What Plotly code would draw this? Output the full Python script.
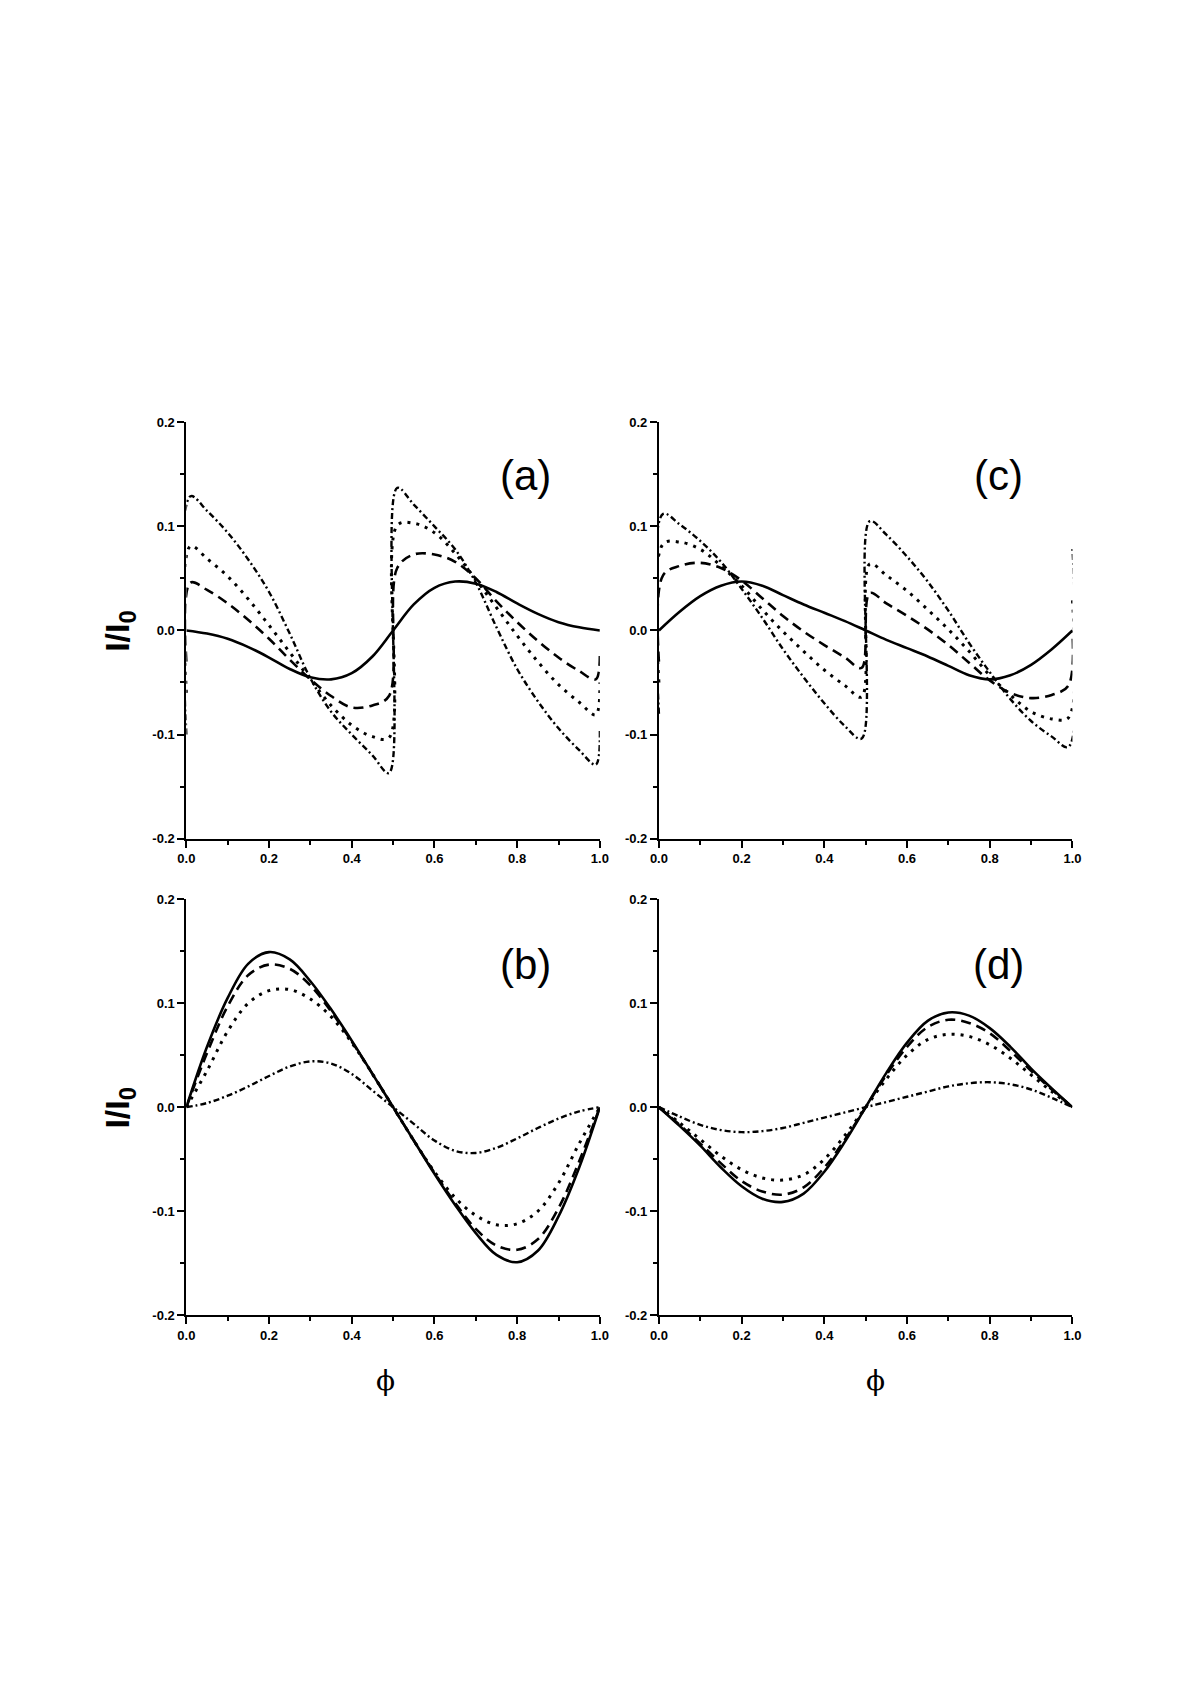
import plotly.graph_objects as go
from plotly.subplots import make_subplots

# phase grids
phi_smooth = [0.0, 0.05, 0.1, 0.15, 0.2, 0.25, 0.3, 0.35, 0.4, 0.45, 0.5,
              0.55, 0.6, 0.65, 0.7, 0.75, 0.8, 0.85, 0.9, 0.95, 1.0]
phi_saw = [0.0, 0.01, 0.05, 0.1, 0.15, 0.2, 0.25, 0.3, 0.35, 0.4, 0.45, 0.49,
           0.51, 0.55, 0.6, 0.65, 0.7, 0.75, 0.8, 0.85, 0.9, 0.95, 0.99, 1.0]

# panel (a)
a_solid = [0.0, -0.003, -0.008, -0.016, -0.026, -0.037, -0.045, -0.047, -0.041, -0.025, 0.0,
           0.025, 0.041, 0.047, 0.045, 0.037, 0.026, 0.016, 0.008, 0.003, 0.0]
a_dash = [-0.03, 0.046, 0.039, 0.026, 0.010, -0.008, -0.028, -0.047, -0.063, -0.074, -0.072, -0.063,
          0.060, 0.073, 0.073, 0.066, 0.050, 0.028, 0.008, -0.010, -0.026, -0.039, -0.047, -0.022]
a_dot = [-0.06, 0.081, 0.069, 0.052, 0.030, 0.005, -0.021, -0.047, -0.072, -0.091, -0.102, -0.103,
         0.101, 0.103, 0.094, 0.074, 0.049, 0.022, -0.005, -0.030, -0.052, -0.069, -0.081, -0.050]
a_dashdot = [-0.10, 0.129, 0.115, 0.094, 0.068, 0.037, -0.003, -0.046, -0.078, -0.100, -0.120, -0.137,
             0.137, 0.121, 0.100, 0.078, 0.046, 0.003, -0.037, -0.068, -0.094, -0.115, -0.129, -0.095]

# panel (b)
b_solid = [0.0, 0.058, 0.105, 0.138, 0.149, 0.142, 0.121, 0.094, 0.064, 0.032, 0.0,
           -0.032, -0.064, -0.094, -0.121, -0.142, -0.149, -0.138, -0.105, -0.058, 0.0]
b_dash = [0.0, 0.052, 0.097, 0.127, 0.137, 0.133, 0.117, 0.092, 0.063, 0.032, 0.0,
          -0.032, -0.063, -0.092, -0.117, -0.133, -0.137, -0.127, -0.097, -0.052, 0.0]
b_dot = [0.0, 0.035, 0.073, 0.100, 0.112, 0.113, 0.104, 0.087, 0.062, 0.032, 0.0,
         -0.032, -0.062, -0.087, -0.104, -0.113, -0.112, -0.100, -0.073, -0.035, 0.0]
b_dashdot = [0.0, 0.004, 0.011, 0.020, 0.030, 0.039, 0.044, 0.042, 0.032, 0.016, 0.0,
             -0.016, -0.032, -0.042, -0.044, -0.039, -0.030, -0.020, -0.011, -0.004, 0.0]

# panel (c)
c_solid = [0.0, 0.018, 0.033, 0.043, 0.047, 0.043, 0.034, 0.025, 0.017, 0.009, 0.0,
           -0.009, -0.017, -0.025, -0.034, -0.043, -0.047, -0.043, -0.033, -0.018, 0.0]
c_dash = [-0.03, 0.053, 0.062, 0.065, 0.060, 0.048, 0.031, 0.014, -0.001, -0.014, -0.026, -0.036,
          0.036, 0.026, 0.014, 0.001, -0.014, -0.031, -0.048, -0.060, -0.065, -0.062, -0.053, 0.0]
c_dot = [-0.05, 0.083, 0.085, 0.078, 0.062, 0.043, 0.020, -0.001, -0.020, -0.038, -0.053, -0.064,
         0.064, 0.053, 0.038, 0.020, 0.001, -0.020, -0.043, -0.062, -0.078, -0.085, -0.084, 0.03]
c_dashdot = [-0.08, 0.112, 0.102, 0.086, 0.066, 0.040, 0.012, -0.018, -0.045, -0.070, -0.092, -0.104,
             0.105, 0.092, 0.071, 0.047, 0.019, -0.012, -0.040, -0.066, -0.087, -0.102, -0.112, 0.08]

# panel (d)
d_solid = [0.0, -0.018, -0.037, -0.058, -0.076, -0.088, -0.091, -0.083, -0.062, -0.033, 0.0,
           0.033, 0.062, 0.083, 0.091, 0.088, 0.076, 0.058, 0.037, 0.018, 0.0]
d_dash = [0.0, -0.017, -0.035, -0.054, -0.071, -0.081, -0.084, -0.077, -0.058, -0.031, 0.0,
          0.031, 0.058, 0.077, 0.084, 0.081, 0.071, 0.054, 0.035, 0.017, 0.0]
d_dot = [0.0, -0.015, -0.031, -0.047, -0.060, -0.068, -0.070, -0.065, -0.050, -0.027, 0.0,
         0.027, 0.050, 0.065, 0.070, 0.068, 0.060, 0.047, 0.031, 0.015, 0.0]
d_dashdot = [0.0, -0.009, -0.017, -0.022, -0.024, -0.023, -0.020, -0.015, -0.010, -0.005, 0.0,
             0.005, 0.010, 0.015, 0.020, 0.023, 0.024, 0.022, 0.017, 0.009, 0.0]

x_ticks = [0.0, 0.2, 0.4, 0.6, 0.8, 1.0]
x_ticktext = ["0.0", "0.2", "0.4", "0.6", "0.8", "1.0"]
x_minor = [0.1, 0.3, 0.5, 0.7, 0.9]
y_ticks = [-0.2, -0.1, 0.0, 0.1, 0.2]
y_ticktext = ["-0.2", "-0.1", "0.0", "0.1", "0.2"]
y_minor = [-0.15, -0.05, 0.05, 0.15]

styles = {
    "solid": dict(dash="solid", width=2.6),
    "dash": dict(dash="10px,6px", width=2.6),
    "dot": dict(dash="3px,6px", width=3),
    "dashdot": dict(dash="6px,3px,2px,3px", width=2.4),
}

panels = [
    ("(a)", 1, 1, [(phi_smooth, a_solid, "solid"), (phi_saw, a_dash, "dash"),
                   (phi_saw, a_dot, "dot"), (phi_saw, a_dashdot, "dashdot")], 0.149),
    ("(c)", 1, 2, [(phi_smooth, c_solid, "solid"), (phi_saw, c_dash, "dash"),
                   (phi_saw, c_dot, "dot"), (phi_saw, c_dashdot, "dashdot")], 0.149),
    ("(b)", 2, 1, [(phi_smooth, b_solid, "solid"), (phi_smooth, b_dash, "dash"),
                   (phi_smooth, b_dot, "dot"), (phi_smooth, b_dashdot, "dashdot")], 0.137),
    ("(d)", 2, 2, [(phi_smooth, d_solid, "solid"), (phi_smooth, d_dash, "dash"),
                   (phi_smooth, d_dot, "dot"), (phi_smooth, d_dashdot, "dashdot")], 0.137),
]

# the page body keeps its default 8px margin, so the figure is shrunk to fit
PAGE_W, PAGE_H, BODY = 1181, 1700, 8
W, H = PAGE_W - 2 * BODY, PAGE_H - 2 * BODY


def px_x(x):
    return (x - BODY) / W


def px_y(y):
    return 1 - (y - BODY) / H


fig = make_subplots(rows=2, cols=2)

for label, row, col, series, label_y in panels:
    for xs, ys, style in series:
        fig.add_trace(
            go.Scatter(
                x=xs, y=ys, mode="lines", showlegend=False,
                line=dict(color="black", shape="spline", smoothing=1.0, **styles[style]),
            ),
            row=row, col=col,
        )
    fig.add_annotation(
        text=label, x=0.82, y=label_y, showarrow=False,
        xanchor="center", yanchor="middle",
        font=dict(family="Liberation Sans, Arial", size=42, color="black"),
        row=row, col=col,
    )

tick_font = dict(family="Liberation Sans, Arial", size=13, color="black", weight="bold")
common = dict(
    showline=True, linecolor="black", linewidth=2, mirror=False,
    ticks="outside", ticklen=7, tickwidth=2, tickcolor="black",
    showgrid=False, zeroline=False, tickfont=tick_font,
)

fig.update_xaxes(
    range=[0, 1], tickmode="array", tickvals=x_ticks, ticktext=x_ticktext,
    minor=dict(tickmode="array", tickvals=x_minor, ticks="outside", ticklen=4,
               tickwidth=2, tickcolor="black"),
    **common,
)
fig.update_yaxes(
    range=[-0.2, 0.2], tickmode="array", tickvals=y_ticks, ticktext=y_ticktext,
    minor=dict(tickmode="array", tickvals=y_minor, ticks="outside", ticklen=4,
               tickwidth=2, tickcolor="black"),
    **common,
)

# panel boxes, in page pixels
left_dom = [px_x(180), px_x(600)]
right_dom = [px_x(660), px_x(1080)]
top_dom = [px_y(839), px_y(419)]
bottom_dom = [px_y(1320), px_y(900)]

fig.update_layout(
    width=W, height=H,
    margin=dict(l=0, r=0, t=0, b=0),
    paper_bgcolor="white", plot_bgcolor="white",
    xaxis=dict(domain=left_dom), yaxis=dict(domain=top_dom),
    xaxis2=dict(domain=right_dom), yaxis2=dict(domain=top_dom),
    xaxis3=dict(domain=left_dom), yaxis3=dict(domain=bottom_dom),
    xaxis4=dict(domain=right_dom), yaxis4=dict(domain=bottom_dom),
)

# axis titles
for yc in [(419 + 839) / 2, (900 + 1320) / 2]:
    fig.add_annotation(
        text="<b>I/I<sub>0</sub></b>", xref="paper", yref="paper",
        x=px_x(112), y=px_y(yc), textangle=-90, showarrow=False,
        xanchor="center", yanchor="middle",
        font=dict(family="Liberation Sans, Arial", size=34, color="black"),
    )
for xc in [382, 880]:
    fig.add_annotation(
        text="ϕ", xref="paper", yref="paper", x=px_x(xc), y=px_y(1386),
        showarrow=False, xanchor="center", yanchor="middle",
        font=dict(family="DejaVu Serif, Liberation Serif", size=28, color="black"),
    )

fig.write_html("out.html")
